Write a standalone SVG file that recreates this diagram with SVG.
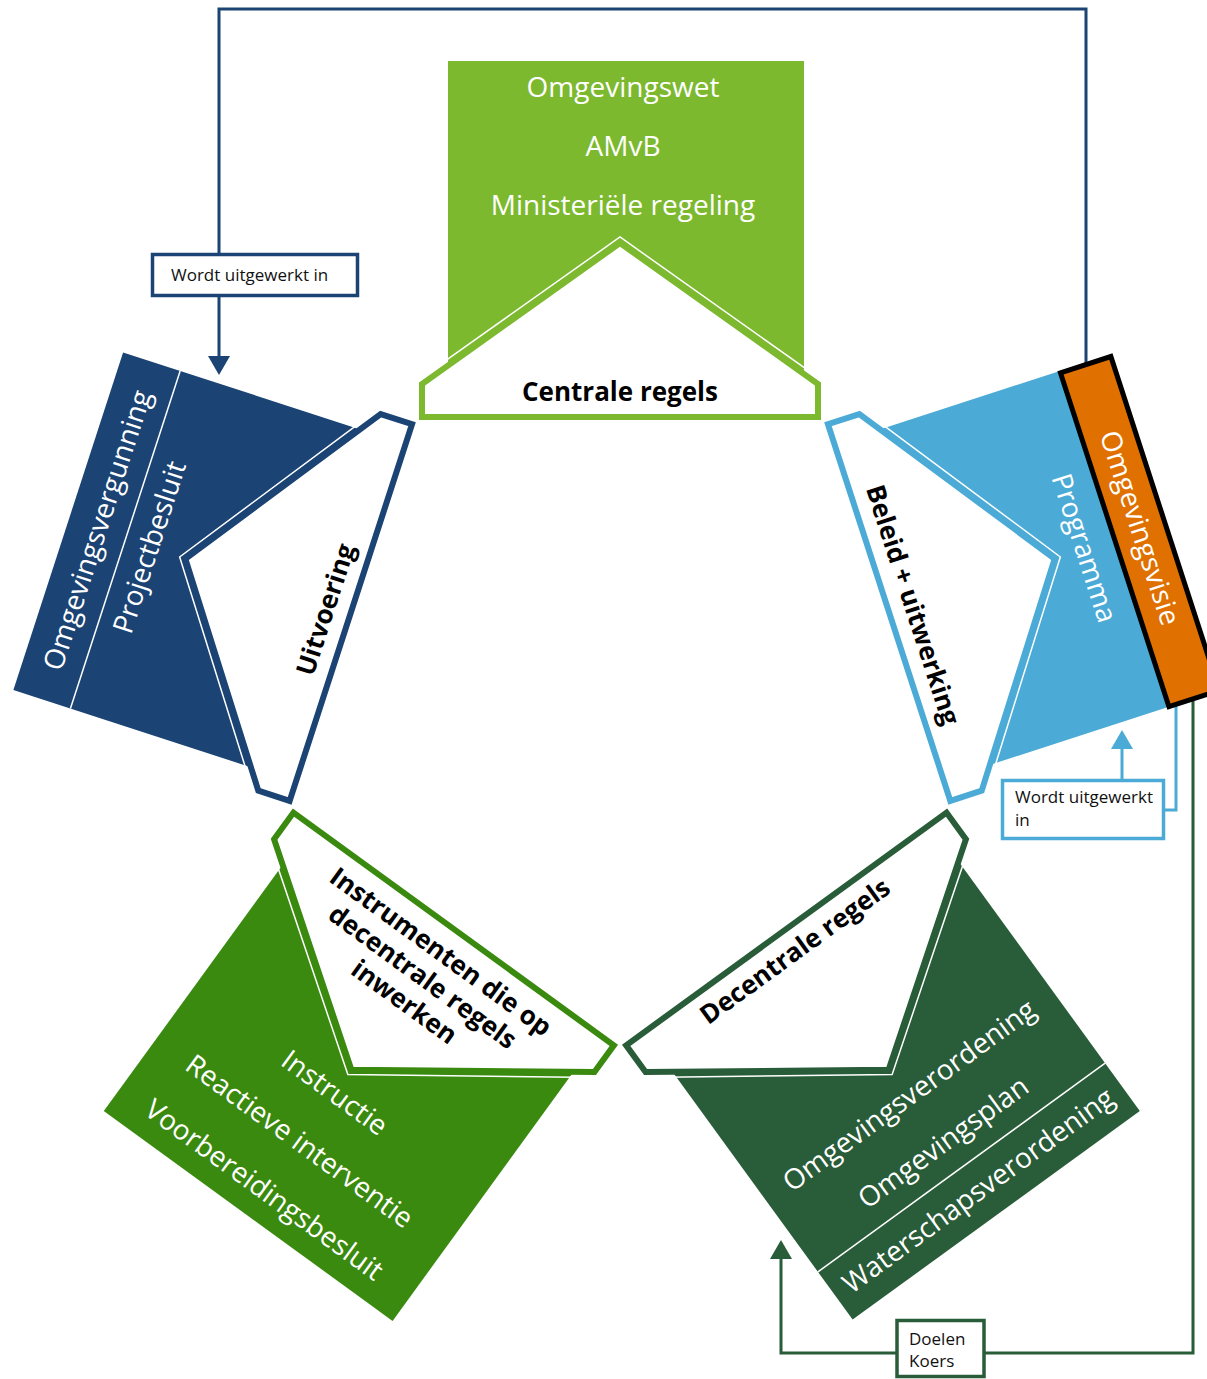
<svg xmlns="http://www.w3.org/2000/svg" width="1207" height="1379" viewBox="0 0 1207 1379">
<defs>
<style>
.w{font-family:"Open Sans","Noto Sans","Liberation Sans",sans-serif;font-size:28px;fill:#fff;text-anchor:middle}
.b{font-family:"Open Sans","Noto Sans","Liberation Sans",sans-serif;font-size:26px;font-weight:700;fill:#000;text-anchor:middle}
.s{font-family:"Open Sans","Noto Sans","Liberation Sans",sans-serif;font-size:17px;fill:#111}
.house{fill:#fff;stroke-width:6}
.halo{fill:none;stroke:#fff;stroke-width:1.5}
.div{stroke:#fff;stroke-width:1.5}
.conn{fill:none;stroke-width:3}
.lbl{fill:#fff;stroke-width:3.5}
</style>
<path id="house" d="M-198,-283 L198,-283 L198,-316 L0,-457 L-198,-316 Z"/>
<path id="halo" d="M-203,-279 L203,-279 L203,-319 L0,-463 L-203,-319 Z"/>
<marker id="ah-db" viewBox="0 -11 19 22" refX="0" refY="0" markerWidth="19" markerHeight="22" markerUnits="userSpaceOnUse" orient="auto"><path d="M0,-11 L19,0 L0,11 Z" fill="#1B4373"/></marker>
<marker id="ah-lb" viewBox="0 -11 19 22" refX="0" refY="0" markerWidth="19" markerHeight="22" markerUnits="userSpaceOnUse" orient="auto"><path d="M0,-11 L19,0 L0,11 Z" fill="#4BABD6"/></marker>
<marker id="ah-dg" viewBox="0 -11 19 22" refX="0" refY="0" markerWidth="19" markerHeight="22" markerUnits="userSpaceOnUse" orient="auto"><path d="M0,-11 L19,0 L0,11 Z" fill="#295C38"/></marker>
</defs>
<rect width="1207" height="1379" fill="#fff"/>

<g id="connectors">
  <polyline class="conn" stroke="#1B4373" points="1086,368 1086,9 219,9 219,356" marker-end="url(#ah-db)"/>
  <rect class="lbl" stroke="#1B4373" x="152.5" y="254.5" width="205" height="41"/>
  <text class="s" x="171" y="281">Wordt uitgewerkt in</text>

  <polyline class="conn" stroke="#4BABD6" points="1122,779 1122,749" marker-end="url(#ah-lb)"/>
  <polyline class="conn" stroke="#4BABD6" points="1176,695 1176,810 1165,810"/>
  <rect class="lbl" stroke="#4BABD6" x="1002.5" y="780.5" width="161" height="58"/>
  <text class="s" x="1015" y="803">Wordt uitgewerkt</text>
  <text class="s" x="1015" y="826">in</text>

  <polyline class="conn" stroke="#295C38" points="1193,695 1193,1353 781,1353 781,1259" marker-end="url(#ah-dg)"/>
  <rect class="lbl" stroke="#295C38" x="897" y="1320.5" width="87" height="56"/>
  <text class="s" x="909" y="1345">Doelen</text>
  <text class="s" x="909" y="1367">Koers</text>
</g>

<g id="centrale" transform="translate(620,700)">
  <rect x="-172" y="-639" width="356" height="340" fill="#7CB92F"/>
  <use href="#halo" class="halo"/>
  <use href="#house" class="house" stroke="#7CB92F"/>
  <text class="w" x="3" y="-603">Omgevingswet</text>
  <text class="w" x="3" y="-544">AMvB</text>
  <text class="w" x="3" y="-485">Ministeriële regeling</text>
  <text class="b" x="0" y="-299">Centrale regels</text>
</g>

<g id="uitvoering" transform="translate(620,700) rotate(-72)">
  <rect x="-178" y="-580" width="355" height="280" fill="#1B4373"/>
  <line class="div" x1="-178" y1="-520" x2="177" y2="-520"/>
  <use href="#halo" class="halo"/>
  <use href="#house" class="house" stroke="#1B4373"/>
  <text class="w" x="0" y="-540">Omgevingsvergunning</text>
  <text class="w" x="0" y="-485">Projectbesluit</text>
  <text class="b" x="-5" y="-299">Uitvoering</text>
</g>

<g id="beleid" transform="translate(620,700) rotate(72)">
  <rect x="-177" y="-520" width="353" height="220" fill="#4BABD6"/>
  <use href="#halo" class="halo"/>
  <use href="#house" class="house" stroke="#4BABD6"/>
  <text class="w" x="-1" y="-479">Programma</text>
  <text class="b" x="0" y="-299">Beleid + uitwerking</text>
</g>

<g id="omgevingsvisie" transform="translate(620,700) rotate(72)">
  <rect x="-175" y="-573" width="351" height="53" fill="#E07000" stroke="#000" stroke-width="5"/>
  <text class="w" x="-3" y="-538">Omgevingsvisie</text>
</g>

<g id="instrumenten" transform="translate(620,700) rotate(-144)">
  <rect x="-181" y="-636" width="357" height="336" fill="#3B8A10"/>
  <use href="#halo" class="halo"/>
  <use href="#house" class="house" stroke="#3B8A10"/>
  <g transform="rotate(180)">
    <text class="w" x="0" y="495">Instructie</text>
    <text class="w" x="0" y="555">Reactieve interventie</text>
    <text class="w" x="0" y="615">Voorbereidingsbesluit</text>
    <text class="b" x="3" y="318">Instrumenten die op</text>
    <text class="b" x="3" y="349">decentrale regels</text>
    <text class="b" x="3" y="380">inwerken</text>
  </g>
</g>

<g id="decentrale" transform="translate(620,700) rotate(144)">
  <rect x="-179" y="-638" width="355" height="338" fill="#295C38"/>
  <line class="div" x1="-179" y1="-579" x2="176" y2="-579"/>
  <use href="#halo" class="halo"/>
  <use href="#house" class="house" stroke="#295C38"/>
  <g transform="rotate(180)">
    <text class="b" x="-6" y="315">Decentrale regels</text>
    <text class="w" x="1.5" y="499.5">Omgevingsverordening</text>
    <text class="w" x="1.5" y="557.6">Omgevingsplan</text>
    <text class="w" x="1.5" y="617">Waterschapsverordening</text>
  </g>
</g>
</svg>
